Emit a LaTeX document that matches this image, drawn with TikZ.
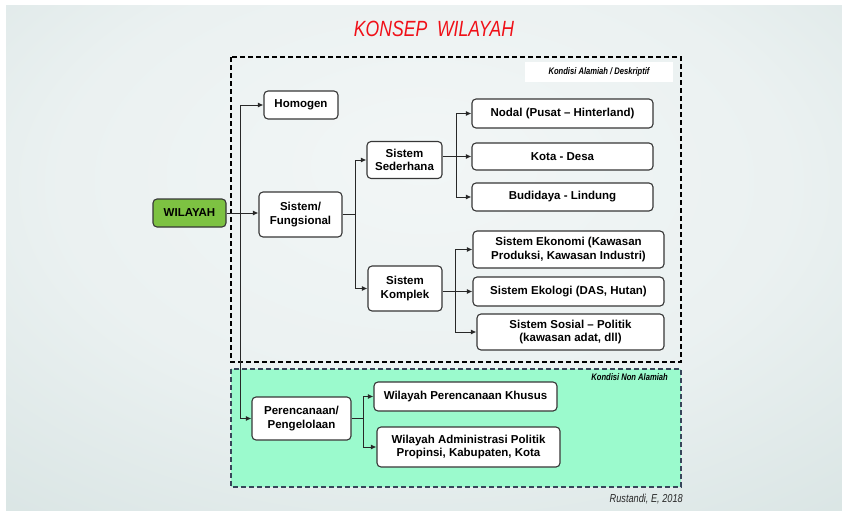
\documentclass[tikz,border=0pt]{standalone}
\usepackage{fontspec}
\setmainfont{Liberation Sans}
\newfontfamily\narrowfont[FakeStretch=0.8]{Liberation Sans}
\usepackage{tikz}
\usetikzlibrary{arrows.meta,calc}
\definecolor{wilgreen}{RGB}{125,194,66}
\definecolor{mint}{RGB}{155,250,205}
\definecolor{navydash}{RGB}{55,70,90}
\definecolor{titlered}{RGB}{240,16,24}
\definecolor{linegray}{RGB}{40,40,40}
\definecolor{boxgray}{RGB}{55,55,55}
\definecolor{notegray}{RGB}{40,40,40}
\pgfdeclareradialshading{slideshade}{\pgfpoint{0bp}{10bp}}{rgb(0bp)=(0.95,0.965,0.965); rgb(22bp)=(0.92,0.945,0.945); rgb(55bp)=(0.80,0.86,0.855); rgb(85bp)=(0.71,0.80,0.79)}
\tikzset{
	box/.style={draw=boxgray, line width=1.1pt, fill=white, rounded corners=4pt, align=center, inner sep=0pt, font=\fontsize{11.5}{13.5}\selectfont\bfseries},
	link/.style={draw=linegray, line width=1pt},
	tip/.style={link, -{Latex[length=5.5pt,width=5pt]}},
	note/.style={inner sep=0pt, font={\narrowfont\fontsize{9.5}{11}\selectfont\bfseries\itshape}}
}

\begin{document}
\begin{tikzpicture}[x=1pt, y=-1pt]
			%%%%% START %%%%%
			
			\useasboundingbox (0, 0) rectangle (842, 511);
			\fill[white] (0, 0) rectangle (842, 511);
			\shade[shading=slideshade] (6, 6) rectangle (842, 510);
			
			\node[font=\narrowfont\fontsize{22}{24}\selectfont\itshape, text=titlered, inner sep=0pt] (title) at (434, 29) {KONSEP\ \ WILAYAH};
			
			\draw[line width=1.3pt, dash pattern=on 5pt off 3pt] (231, 57) rectangle (681, 362);
			\draw[line width=1.3pt, dash pattern=on 5pt off 3pt, draw=navydash, fill=mint] (231, 369) rectangle (681, 487);
			
			\node[fill=white, minimum width=148pt, minimum height=20pt, inner sep=0pt] (alamiah) at (599, 72) {};
			\node[note] at (alamiah) {Kondisi Alamiah / Deskriptif};
			\node[note, anchor=east] (nonalamiah) at (668, 377) {Kondisi Non Alamiah};
			\node[anchor=east, inner sep=0pt, text=notegray, font={\narrowfont\fontsize{11.5}{13}\selectfont\itshape}] (source) at (683, 499) {Rustandi, E, 2018};
			
			\node[box, fill=wilgreen, minimum width=73pt, minimum height=28pt] (wil) at (189.5, 213) {WILAYAH};
			\node[box, minimum width=74pt, minimum height=28pt] (hom) at (301, 105) {Homogen};
			\node[box, minimum width=83pt, minimum height=45pt] (sisf) at (300.5, 214.5) {Sistem/\\Fungsional};
			\node[box, minimum width=99pt, minimum height=43pt] (ren) at (301.5, 418.5) {Perencanaan/\\Pengelolaan};
			
			\node[box, minimum width=75pt, minimum height=37pt] (sed) at (404.5, 160) {Sistem\\Sederhana};
			\node[box, minimum width=74pt, minimum height=45pt] (kom) at (405, 288.5) {Sistem\\Komplek};
			
			\node[box, minimum width=181pt, minimum height=29pt] (nod) at (562.5, 113.5) {Nodal (Pusat -- Hinterland)};
			\node[box, minimum width=181pt, minimum height=27pt] (kot) at (562.5, 156.5) {Kota - Desa};
			\node[box, minimum width=181pt, minimum height=28pt] (bud) at (562.5, 197) {Budidaya - Lindung};
			
			\node[box, minimum width=191pt, minimum height=37pt] (eko) at (568.5, 249.5) {Sistem Ekonomi (Kawasan\\Produksi, Kawasan Industri)};
			\node[box, minimum width=191pt, minimum height=29pt] (ekl) at (568.5, 291.5) {Sistem Ekologi (DAS, Hutan)};
			\node[box, minimum width=187pt, minimum height=36pt] (sos) at (570.5, 332) {Sistem Sosial -- Politik\\(kawasan adat, dll)};
			
			\node[box, minimum width=183pt, minimum height=29pt] (khu) at (465.5, 396.5) {Wilayah Perencanaan Khusus};
			\node[box, minimum width=183pt, minimum height=40pt] (adm) at (468.5, 447) {Wilayah Administrasi Politik\\Propinsi, Kabupaten, Kota};
			
			% trunk
			\coordinate (trunk) at (240, 213);
			\draw[tip] (wil.east) -- (wil.east -| sisf.west);
			\draw[link] (trunk |- hom) -- (trunk |- ren);
			\draw[tip] (trunk |- hom) -- (hom.west);
			\draw[tip] (trunk |- ren) -- (ren.west);
			
			% sistem / fungsional
			\coordinate (forkA) at (355, 214);
			\draw[link] (sisf.east) -- (forkA |- sisf.east);
			\draw[link] (forkA |- sed) -- (forkA |- kom);
			\draw[tip] (forkA |- sed) -- (sed.west);
			\draw[tip] (forkA |- kom) -- (kom.west);
			
			% sederhana
			\coordinate (forkB) at (456, 156);
			\draw[tip] (sed.east |- kot) -- (kot.west);
			\draw[link] (forkB |- nod) -- (forkB |- bud);
			\draw[tip] (forkB |- nod) -- (nod.west);
			\draw[tip] (forkB |- bud) -- (bud.west);
			
			% komplek
			\coordinate (forkC) at (455, 291);
			\draw[tip] (kom.east |- ekl) -- (ekl.west);
			\draw[link] (forkC |- eko) -- (forkC |- sos);
			\draw[tip] (forkC |- eko) -- (eko.west);
			\draw[tip] (forkC |- sos) -- (sos.west);
			
			% perencanaan
			\coordinate (forkD) at (363, 418);
			\draw[link] (ren.east) -- (forkD |- ren.east);
			\draw[link] (forkD |- khu) -- (forkD |- adm);
			\draw[tip] (forkD |- khu) -- (khu.west);
			\draw[tip] (forkD |- adm) -- (adm.west);
			
			%%%%% END %%%%%
\end{tikzpicture}
\end{document}
